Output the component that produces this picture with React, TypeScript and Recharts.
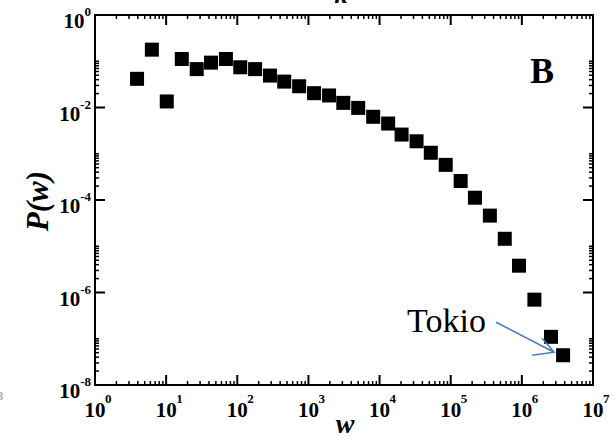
import React from 'react';
import { ScatterChart, Scatter, XAxis, YAxis, ReferenceArea, Customized } from 'recharts';

// log-binned strength distribution
const wValues = [
  3.9, 6.3, 10.2, 16.6, 26.9, 42.7, 69.2, 110, 178, 288,
  457, 741, 1200, 1950, 3090, 5010, 8130, 13200, 20400, 33100,
  52500, 85100, 138000, 219000, 355000, 575000, 912000, 1500000, 2570000, 3800000,
];
const pValues = [
  0.0417, 0.178, 0.0135, 0.112, 0.0676, 0.0933, 0.112, 0.0741, 0.0676, 0.049,
  0.0363, 0.0288, 0.0204, 0.0182, 0.0126, 0.0098, 0.0063, 0.0045, 0.0026, 0.00186,
  0.00105, 0.000575, 0.000257, 0.000112, 4.6e-5, 1.45e-5, 3.8e-6, 7.0e-7, 1.1e-7, 4.4e-8,
];
const noteIndex = 29;
const noteText = 'Tokio';

const xDomain = [1, 1e7];
const yDomain = [1e-8, 1];
const xMajorTicks = [1, 10, 100, 1e3, 1e4, 1e5, 1e6, 1e7];
const yMajorTicks = [1e-8, 1e-6, 1e-4, 1e-2, 1];
const minorSteps = [2, 3, 4, 5, 6, 7, 8, 9];
const yMinorSteps = [2, 3, 4, 5, 6, 7, 8, 9, 10];

const xMinorTicks: number[] = [];
xMajorTicks.slice(0, -1).forEach((m) => minorSteps.forEach((k) => xMinorTicks.push(k * m)));
const yMinorTicks: number[] = [];
yMajorTicks.slice(0, -1).forEach((m) => yMinorSteps.forEach((k) => yMinorTicks.push(k * m)));

const xTicks = [...xMajorTicks, ...xMinorTicks];
const yTicks = [...yMajorTicks, ...yMinorTicks];
const xMajorSet = new Set(xMajorTicks);
const yMajorSet = new Set(yMajorTicks);

const data = wValues.map((w, i) => ({ w, p: pValues[i], note: i === noteIndex ? noteText : '' }));

const labelFont = 'Liberation Serif, Times New Roman, serif';
const exp = (v: number) => String(Math.round(Math.log10(v)));

const BottomTick = (props: any) => {
  const { x, y, payload } = props;
  const major = xMajorSet.has(payload.value);
  return (
    <g>
      <line x1={x} x2={x} y1={y} y2={y - (major ? 10 : 4)} stroke="#000" strokeWidth={major ? 2 : 1.5} />
      {major && (
        <g fontFamily={labelFont} fontWeight="bold" fill="#000">
          <text x={x} y={y + 32} textAnchor="middle" fontSize={21}>10</text>
          <text x={x + 10} y={y + 18} fontSize={13}>{exp(payload.value)}</text>
        </g>
      )}
    </g>
  );
};

const TopTick = (props: any) => {
  const { x, y, payload } = props;
  const major = xMajorSet.has(payload.value);
  return <line x1={x} x2={x} y1={y} y2={y + (major ? 10 : 4)} stroke="#000" strokeWidth={major ? 2 : 1.5} />;
};

const LeftTick = (props: any) => {
  const { x, y, payload } = props;
  const major = yMajorSet.has(payload.value);
  return (
    <g>
      <line x1={x} x2={x + (major ? 10 : 4)} y1={y} y2={y} stroke="#000" strokeWidth={major ? 2 : 1.5} />
      {major && (
        <text x={x - 4} y={y + 13} textAnchor="end" fontFamily={labelFont} fontWeight="bold" fill="#000">
          <tspan fontSize={21}>10</tspan>
          <tspan fontSize={13} dy={-12}>{exp(payload.value)}</tspan>
        </text>
      )}
    </g>
  );
};

const RightTick = (props: any) => {
  const { x, y, payload } = props;
  const major = yMajorSet.has(payload.value);
  return <line x1={x} x2={x - (major ? 10 : 4)} y1={y} y2={y} stroke="#000" strokeWidth={major ? 2 : 1.5} />;
};

const SquareShape = (props: any) => {
  const { cx, cy, payload } = props;
  return (
    <g>
      <rect x={cx - 7} y={cy - 7} width={14} height={14} fill="#000" />
      {payload.note && (
        <g>
          <text x={cx - 156} y={cy - 23} fontFamily={labelFont} fontSize={34} fill="#000">
            {payload.note}
          </text>
          <path
            d={`M${cx - 67},${cy - 33} L${cx - 9},${cy - 3} M${cx - 21},${cy - 17} L${cx - 9},${cy - 3} L${cx - 31},${cy}`}
            stroke="#4a7ebb"
            strokeWidth={1.6}
            fill="none"
          />
        </g>
      )}
    </g>
  );
};

const Labels = () => (
  <g fontFamily={labelFont} fontWeight="bold" fill="#000">
    <text x={341} y={3} textAnchor="middle" fontStyle="italic" fontSize={26}>k</text>
    <text x={542} y={83} textAnchor="middle" fontSize={36}>B</text>
    <text x={345} y={433} textAnchor="middle" fontStyle="italic" fontSize={28}>w</text>
    <text
      x={37}
      y={201}
      textAnchor="middle"
      dominantBaseline="central"
      fontStyle="italic"
      fontSize={31}
      transform="rotate(-90, 37, 201)"
    >
      P(w)
    </text>
    <text x={-3} y={400} fontSize={12} fill="#aaa">8</text>
  </g>
);

const axisLine = { stroke: '#000', strokeWidth: 2 };

const App: React.FC = () => {
  return (
    <div style={{ position: 'absolute', left: 0, top: 0, width: 616, height: 439, background: '#fff' }}>
      <ScatterChart width={616} height={439} margin={{ top: 14, right: 22, bottom: 53, left: 94 }}>
        <XAxis
          xAxisId="x"
          dataKey="w"
          type="number"
          scale="log"
          domain={xDomain}
          allowDataOverflow
          ticks={xTicks}
          interval={0}
          height={1}
          tickSize={0}
          tickMargin={0}
          tickLine={false}
          stroke="#000"
          axisLine={axisLine}
          tick={BottomTick}
        />
        <XAxis
          xAxisId="xt"
          orientation="top"
          dataKey="w"
          type="number"
          scale="log"
          domain={xDomain}
          allowDataOverflow
          ticks={xTicks}
          interval={0}
          height={1}
          tickSize={0}
          tickMargin={0}
          tickLine={false}
          stroke="#000"
          axisLine={axisLine}
          tick={TopTick}
        />
        <YAxis
          yAxisId="y"
          dataKey="p"
          type="number"
          scale="log"
          domain={yDomain}
          allowDataOverflow
          ticks={yTicks}
          interval={0}
          width={1}
          tickSize={0}
          tickMargin={0}
          tickLine={false}
          stroke="#000"
          axisLine={axisLine}
          tick={LeftTick}
        />
        <YAxis
          yAxisId="yr"
          orientation="right"
          dataKey="p"
          type="number"
          scale="log"
          domain={yDomain}
          allowDataOverflow
          ticks={yTicks}
          interval={0}
          width={1}
          tickSize={0}
          tickMargin={0}
          tickLine={false}
          stroke="#000"
          axisLine={axisLine}
          tick={RightTick}
        />
        <ReferenceArea
          xAxisId="x"
          yAxisId="y"
          x1={xDomain[0]}
          x2={xDomain[1]}
          y1={yDomain[0]}
          y2={yDomain[1]}
          fill="none"
          fillOpacity={0}
          stroke="#000"
          strokeWidth={2}
          strokeOpacity={1}
          ifOverflow="visible"
        />
        <Scatter xAxisId="x" yAxisId="y" data={data} shape={SquareShape} isAnimationActive={false} />
        <Customized component={Labels} />
      </ScatterChart>
    </div>
  );
};

export default App;
